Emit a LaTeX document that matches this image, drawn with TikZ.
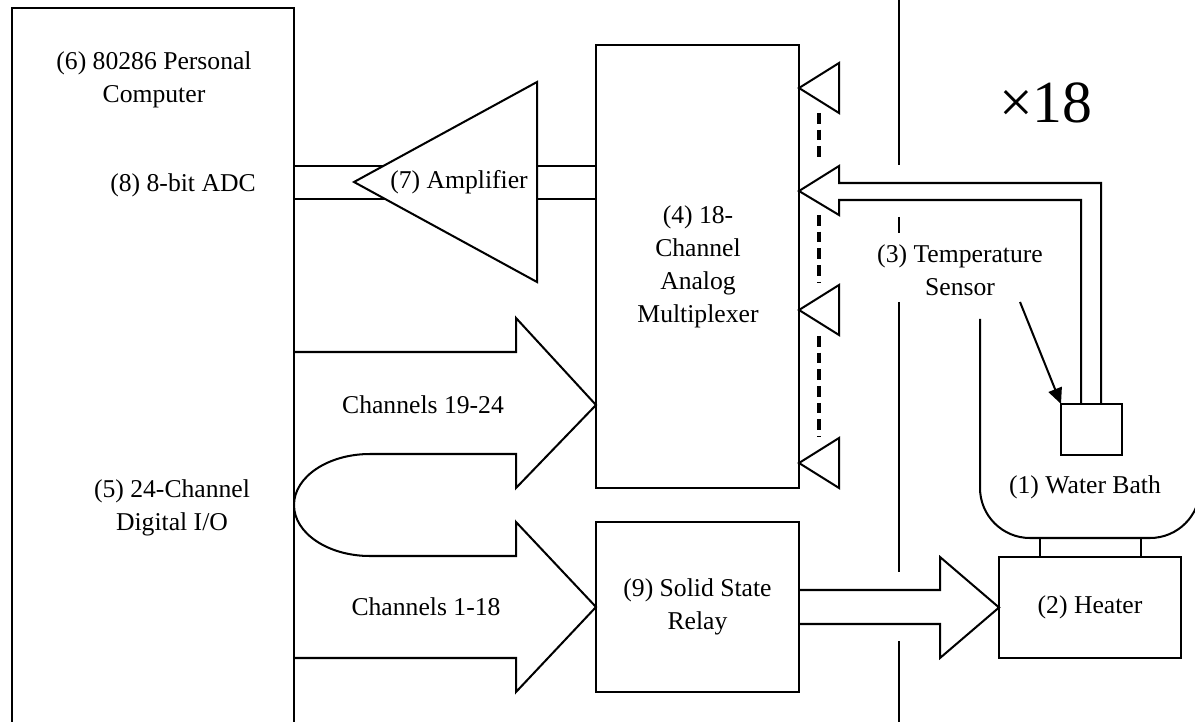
\documentclass[tikz,border=0pt]{standalone}
\usepackage{fontspec}
\setmainfont{Liberation Serif}
\usetikzlibrary{arrows.meta}
\tikzset{
  lbl/.style={font=\fontsize{14.6}{18.7}\selectfont, align=center, inner sep=0pt},
  wire/.style={line width=1.15pt, line join=miter},
  unitbox/.style={draw, wire, inner sep=0pt, outer sep=0pt},
  dashbus/.style={line width=2.2pt, dash pattern=on 6pt off 3.5pt},
  divider/.style={line width=0.6pt},
}
\begin{document}
\begin{tikzpicture}[x=0.02cm, y=-0.02cm]
  \useasboundingbox (0,0) rectangle (1195,722);
  \clip (0,0) rectangle (1195,722);
  % draw personal computer box, open at the bottom
  \draw[wire] (12,730) -- (12,8) -- (294,8) -- (294,730);
  \node[lbl] (pc) at (154,80) {(6) 80286 Personal\\Computer};
  \node[lbl] (adc) at (183,185) {(8) 8-bit ADC};
  \node[lbl] (dio) at (172,508) {(5) 24-Channel\\Digital I/O};
  % draw multiplexer and relay boxes
  \node[unitbox, minimum width=4.06cm, minimum height=8.86cm] (mux) at (697.5,266.5) {};
  \node[lbl] (muxtext) at (698,267) {(4) 18-\\Channel\\Analog\\Multiplexer};
  \node[unitbox, lbl, minimum width=4.06cm, minimum height=3.4cm] (relay) at (697.5,607) {(9) Solid State\\Relay};
  % draw amplifier with the ADC bus
  \node[lbl] (amp) at (459,182) {(7) Amplifier};
  \draw[wire] (537,82) -- (354,182) -- (537,282) -- cycle;
  \draw[wire] (294,166) -- (383,166);
  \draw[wire] (294,199) -- (385,199);
  \draw[wire] (537,166) -- (mux.west |- 0,166);
  \draw[wire] (537,199) -- (mux.west |- 0,199);
  % draw the small input buffers
  \foreach \y in {88,310,463}
    \draw[wire] (799,\y) -- (839,\y-25) -- (839,\y+25) -- cycle;
  \foreach \a/\b in {113/162,215/283,336/437}
    \draw[dashbus] (819,\a) -- (819,\b);
  % draw the dividing line
  \foreach \a/\b in {-5/165,217/233,302/572,641/730}
    \draw[divider] (899,\a) -- (899,\b);
  \node[font=\fontsize{34}{40}\selectfont, inner sep=0pt] (count) at (1046,103) {×18};
  % draw sensor and its wide signal arrow
  \node[unitbox, minimum width=1.22cm, minimum height=1.02cm] (sensor) at (1091.5,429.5) {};
  \draw[wire] (sensor.north -| 1101,0) -- (1101,183) -- (839,183) -- (839,166)
    -- (799,191) -- (839,215) -- (839,200) -- (1081,200) -- (sensor.north -| 1081,0);
  \node[lbl] (tlabel) at (960,270) {(3) Temperature\\Sensor};
  \coordinate (tstart) at (1020,302);
  \draw[wire, -{Triangle[length=9pt,width=8pt]}] (tstart) -- (sensor.north west);
  % draw water bath and heater
  \draw[wire] (980,319) -- (980,488) arc[start angle=180, end angle=90, radius=50]
    -- (1150,538) arc[start angle=90, end angle=0, radius=50] -- (1200,319);
  \node[lbl] (bath) at (1085,487) {(1) Water Bath};
  \node[unitbox, lbl, minimum width=3.64cm, minimum height=2.02cm] (heater) at (1090,607.5) {(2) Heater};
  \draw[wire] (1040,538) -- (heater.north -| 1040,0);
  \draw[wire] (1141,538) -- (heater.north -| 1141,0);
  % draw digital channel arrows
  \draw[wire] (294,352) -- (516,352) -- (516,318) -- (596,405) -- (516,488) -- (516,454)
    -- (370,454) arc[start angle=270, end angle=90, x radius=76, y radius=51]
    -- (516,556) -- (516,522) -- (relay.west) -- (516,692) -- (516,658) -- (294,658);
  \node[lbl] (ch1) at (423,405) {Channels 19-24};
  \node[lbl] (ch2) at (426,607) {Channels 1-18};
  % draw relay output arrow
  \draw[wire] (relay.east |- 0,590) -- (940,590) -- (940,557) -- (heater.west)
    -- (940,658) -- (940,624) -- (relay.east |- 0,624);
\end{tikzpicture}
\end{document}
